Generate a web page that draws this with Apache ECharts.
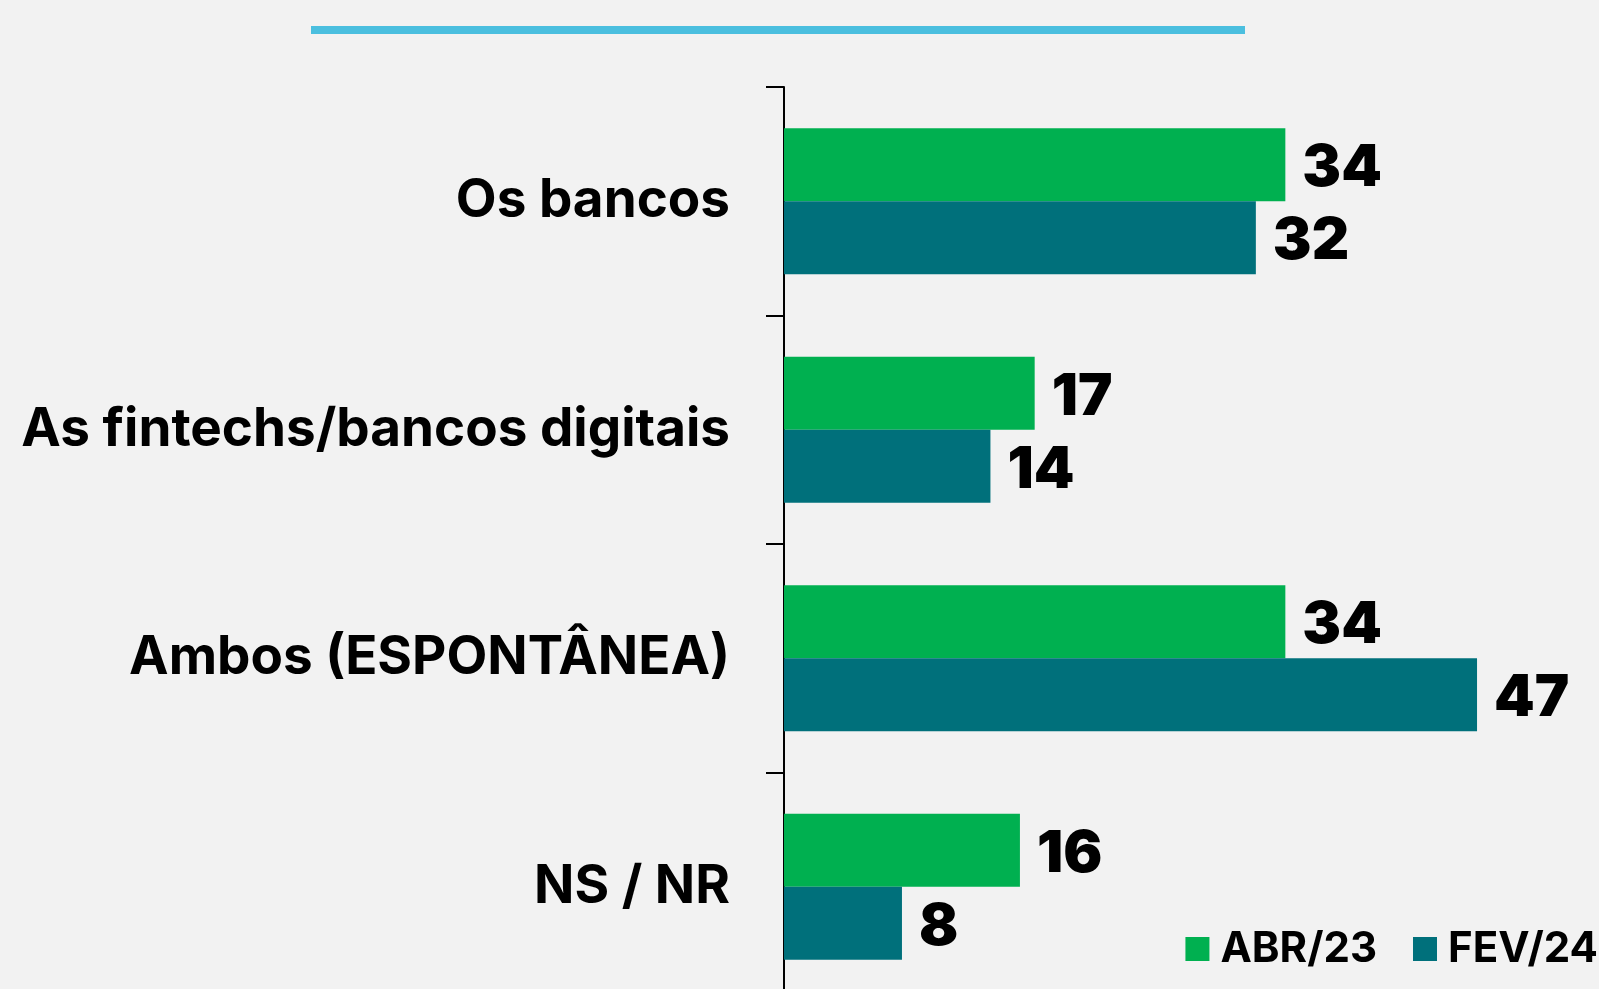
<!DOCTYPE html>
<html>
<head>
<meta charset="utf-8">
<script src="https://cdn.jsdelivr.net/npm/echarts@6/dist/echarts.min.js"></script>
<style>
  html, body { margin: 0; padding: 0; background: #f2f2f2; }
  #chart { width: 1599px; height: 989px; }
</style>
</head>
<body>
<div id="chart"></div>
<script>
const categories = ['Os bancos', 'As fintechs/bancos digitais', 'Ambos (ESPONTÂNEA)', 'NS / NR']
const abr23 = [34, 17, 34, 16]
const fev24 = [32, 14, 47, 8]

const chart = echarts.init(document.getElementById('chart'))

const makeSeries = (name, color, data) => ({
  name,
  type: 'bar',
  data,
  barGap: '0%',
  barCategoryGap: '36%',
  itemStyle: { color },
  label: {
    show: true,
    position: 'right',
    distance: 17,
    offset: [0, 4],
    color: '#000',
    fontFamily: 'Inter',
    fontWeight: 900,
    fontSize: 58
  }
})

chart.setOption({
  backgroundColor: '#f2f2f2',
  animation: false,
  graphic: [{
    type: 'line',
    shape: { x1: 311, y1: 30, x2: 1245, y2: 30 },
    style: { stroke: '#4bbfdf', lineWidth: 8 }
  }],
  legend: {
    right: 1,
    bottom: 19,
    padding: 0,
    icon: 'rect',
    itemWidth: 24,
    itemHeight: 24,
    itemGap: 36,
    textStyle: {
      color: '#000',
      fontFamily: 'Inter',
      fontWeight: 'bold',
      fontSize: 42,
      padding: [0, 0, 0, 6]
    }
  },
  grid: { left: 784, top: 87, width: 811, height: 914, outerBoundsMode: 'none' },
  xAxis: {
    type: 'value',
    min: 0,
    max: 55,
    show: false
  },
  yAxis: {
    type: 'category',
    inverse: true,
    data: categories,
    axisLine: { show: true, lineStyle: { color: '#000', width: 2 } },
    axisTick: { show: true, length: 18, lineStyle: { color: '#000', width: 2 } },
    axisLabel: {
      margin: 54,
      color: '#000',
      fontFamily: 'Inter',
      fontWeight: 'bold',
      fontSize: 53
    }
  },
  series: [
    makeSeries('ABR/23', '#00b050', abr23),
    makeSeries('FEV/24', '#00707b', fev24)
  ]
})
</script>
</body>
</html>
